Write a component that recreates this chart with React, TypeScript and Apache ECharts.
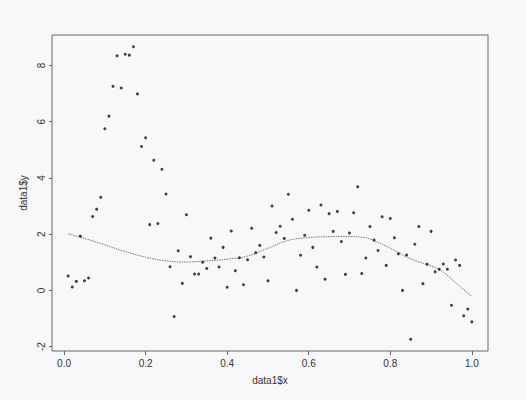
import React, { useEffect, useRef } from "react";
import * as echarts from "echarts";

const xValues: number[] = [
  0.01, 0.02, 0.03, 0.04, 0.05, 0.06, 0.07, 0.08, 0.09, 0.1,
  0.11, 0.12, 0.13, 0.14, 0.15, 0.16, 0.17, 0.18, 0.19, 0.2,
  0.21, 0.22, 0.23, 0.24, 0.25, 0.26, 0.27, 0.28, 0.29, 0.3,
  0.31, 0.32, 0.33, 0.34, 0.35, 0.36, 0.37, 0.38, 0.39, 0.4,
  0.41, 0.42, 0.43, 0.44, 0.45, 0.46, 0.47, 0.48, 0.49, 0.5,
  0.51, 0.52, 0.53, 0.54, 0.55, 0.56, 0.57, 0.58, 0.59, 0.6,
  0.61, 0.62, 0.63, 0.64, 0.65, 0.66, 0.67, 0.68, 0.69, 0.7,
  0.71, 0.72, 0.73, 0.74, 0.75, 0.76, 0.77, 0.78, 0.79, 0.8,
  0.81, 0.82, 0.83, 0.84, 0.85, 0.86, 0.87, 0.88, 0.89, 0.9,
  0.91, 0.92, 0.93, 0.94, 0.95, 0.96, 0.97, 0.98, 0.99, 1.0,
];

const yValues: number[] = [
  0.51, 0.12, 0.32, 1.93, 0.34, 0.44, 2.63, 2.89, 3.31, 5.75,
  6.2, 7.26, 8.35, 7.2, 8.4, 8.37, 8.67, 6.99, 5.12, 5.43,
  2.34, 4.63, 2.38, 4.31, 3.43, 0.84, -0.93, 1.41, 0.25, 2.69,
  1.2, 0.58, 0.58, 1.0, 0.78, 1.86, 1.15, 0.83, 1.53, 0.11,
  2.11, 0.7, 1.16, 0.2, 1.09, 2.21, 1.34, 1.6, 1.19, 0.34,
  3.0, 2.06, 2.28, 1.85, 3.42, 2.53, 0.0, 1.25, 1.96, 2.85,
  1.53, 0.83, 3.04, 0.4, 2.73, 2.1, 2.81, 1.74, 0.57, 2.04,
  2.76, 3.69, 0.6, 1.15, 2.27, 1.79, 1.42, 2.62, 0.89, 2.56,
  1.87, 1.3, 0.0, 1.26, -1.74, 1.64, 2.27, 0.24, 0.93, 2.1,
  0.66, 0.75, 0.94, 0.75, -0.53, 1.08, 0.89, -0.9, -0.66, -1.12,
];

const smoothX: number[] = [
  0.01, 0.05, 0.1, 0.15, 0.2, 0.25, 0.3, 0.35, 0.4, 0.45, 0.5, 0.55,
  0.6, 0.65, 0.7, 0.73, 0.75, 0.8, 0.85, 0.9, 0.93, 0.95, 1.0,
];
const smoothY: number[] = [
  2.01, 1.85, 1.62, 1.38, 1.18, 1.05, 1.01, 1.05, 1.11, 1.22, 1.5, 1.78,
  1.88, 1.91, 1.92, 1.89, 1.83, 1.5, 1.12, 0.87, 0.65, 0.4, -0.22,
];

const xTicks: number[] = [0, 0.2, 0.4, 0.6, 0.8, 1.0];
const yTicks: number[] = [-2, 0, 2, 4, 6, 8];

const FONT = "'Liberation Sans', Arial, Helvetica, sans-serif";

export default function App() {
  const ref = useRef<HTMLDivElement>(null);

  useEffect(() => {
    if (!ref.current) return;
    const chart = echarts.init(ref.current, undefined, { renderer: "svg" });

    const xMin = Math.min(...xValues);
    const xMax = Math.max(...xValues);
    const yMin = Math.min(...yValues);
    const yMax = Math.max(...yValues);
    const xPad = (xMax - xMin) * 0.04;
    const yPad = (yMax - yMin) * 0.04;

    chart.setOption({
      animation: false,
      backgroundColor: "#f8f8fa",
      grid: {
        left: 52,
        top: 35,
        right: 38,
        bottom: 49,
        show: true,
        borderColor: "#666",
        borderWidth: 1,
        backgroundColor: "transparent",
      },
      xAxis: {
        type: "value",
        min: xMin - xPad,
        max: xMax + xPad,
        name: "data1$x",
        nameLocation: "middle",
        nameGap: 24,
        nameTextStyle: { fontFamily: FONT, fontSize: 10, color: "#333" },
        axisLine: { show: false, onZero: false },
        splitLine: { show: false },
        axisTick: {
          show: true,
          inside: false,
          length: 4,
          customValues: xTicks,
          lineStyle: { color: "#666" },
        },
        axisLabel: {
          show: true,
          customValues: xTicks,
          formatter: (v: number) => v.toFixed(1),
          fontFamily: FONT,
          fontSize: 10,
          color: "#333",
          margin: 7,
        },
      },
      yAxis: {
        type: "value",
        min: yMin - yPad,
        max: yMax + yPad,
        name: "data1$y",
        nameLocation: "middle",
        nameGap: 22,
        nameRotate: 90,
        nameTextStyle: { fontFamily: FONT, fontSize: 10, color: "#333" },
        axisLine: { show: false, onZero: false },
        splitLine: { show: false },
        axisTick: {
          show: true,
          inside: false,
          length: 3,
          customValues: yTicks,
          lineStyle: { color: "#666" },
        },
        axisLabel: {
          show: true,
          customValues: yTicks,
          rotate: 90,
          formatter: (v: number) => String(Math.round(v)),
          fontFamily: FONT,
          fontSize: 10,
          color: "#333",
          margin: 6,
        },
      },
      series: [
        {
          type: "scatter",
          data: xValues.map((x, i) => [x, yValues[i]]),
          symbol: "circle",
          symbolSize: 3,
          itemStyle: { color: "#111" },
          z: 3,
        },
        {
          type: "line",
          data: smoothX.map((x, i) => [x, smoothY[i]]),
          smooth: 0.4,
          showSymbol: false,
          symbol: "none",
          lineStyle: { color: "#777", width: 1, type: [1.5, 1] },
          z: 2,
        },
      ],
    });

    return () => chart.dispose();
  }, []);

  return <div ref={ref} style={{ width: 526, height: 400, position: "absolute", left: 0, top: 0 }} />;
}
